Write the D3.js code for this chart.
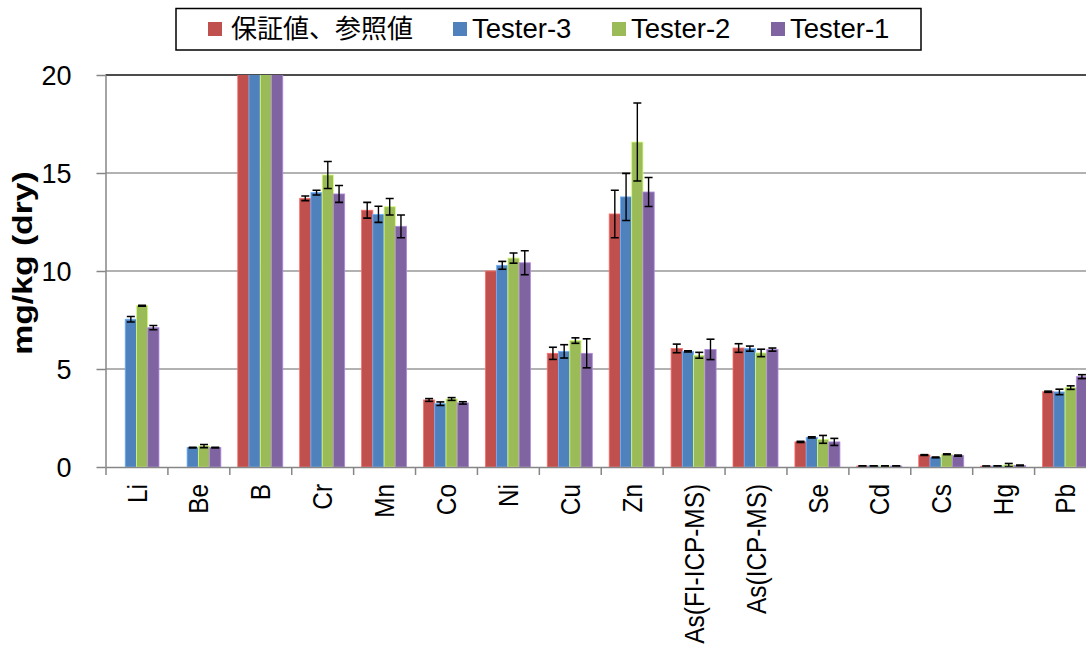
<!DOCTYPE html>
<html>
<head>
<meta charset="utf-8">
<script src="https://cdn.jsdelivr.net/npm/d3@7"></script>
<style>
  html, body { margin: 0; padding: 0; background: #fff; }
  svg { display: block; }
  text { font-family: "Liberation Sans", Arial, sans-serif; fill: #000; }
</style>
</head>
<body>
<svg id="chart" width="1086" height="671"></svg>
<script>
const categories = ["Li","Be","B","Cr","Mn","Co","Ni","Cu","Zn","As(FI-ICP-MS)","As(ICP-MS)","Se","Cd","Cs","Hg","Pb"];
const seriesNames = ["保証値、参照値","Tester-3","Tester-2","Tester-1"];
const seriesColors = ["#C0504D","#4F81BD","#9BBB59","#8064A2"];
const yTicks = [0,5,10,15,20];

const refValues = [null, null, 30, 13.71, 13.10, 3.42, 10.00, 5.80, 12.91, 6.05, 6.07, 1.28, 0.05, 0.61, 0.04, 3.84];
const refErrors = [null, null, 0, 0.12, 0.40, 0.07, 0, 0.31, 1.21, 0.22, 0.22, 0.03, 0.01, 0.02, 0.01, 0.03];
const tester3Values = [7.54, 0.99, 30, 14.00, 12.89, 3.23, 10.29, 5.90, 13.78, 5.90, 6.04, 1.51, 0.05, 0.49, 0.05, 3.83];
const tester3Errors = [0.14, 0.02, 0, 0.12, 0.41, 0.09, 0.20, 0.34, 1.20, 0.03, 0.13, 0.03, 0.01, 0.02, 0.01, 0.14];
const tester2Values = [8.23, 1.07, 30, 14.90, 13.28, 3.47, 10.66, 6.45, 16.58, 5.70, 5.82, 1.41, 0.05, 0.65, 0.10, 4.05];
const tester2Errors = [0.02, 0.08, 0, 0.69, 0.42, 0.07, 0.26, 0.14, 1.99, 0.15, 0.19, 0.20, 0.01, 0.02, 0.08, 0.09];
const tester1Values = [7.11, 0.99, 30, 13.93, 12.28, 3.27, 10.42, 5.80, 14.03, 6.00, 5.99, 1.28, 0.05, 0.58, 0.08, 4.61];
const tester1Errors = [0.11, 0.02, 0, 0.43, 0.58, 0.06, 0.61, 0.74, 0.74, 0.52, 0.08, 0.18, 0.01, 0.03, 0.02, 0.10];

const seriesValues = [refValues, tester3Values, tester2Values, tester1Values];
const seriesErrors = [refErrors, tester3Errors, tester2Errors, tester1Errors];

(function () {
const svg = d3.select("#chart");
svg.append("rect").attr("width",1086).attr("height",671).attr("fill","#fff");

const pL = 105.5, pR = 1096, pT = 75, pB = 467;
const x = d3.scaleBand().domain(categories).range([pL, pR]).paddingInner(0).paddingOuter(0);
const xs = d3.scaleBand().domain(seriesNames).range([0, x.bandwidth()]).paddingInner(0).paddingOuter(0.75);
const y = d3.scaleLinear().domain([0, 20]).range([pB, pT]);

svg.append("defs").append("clipPath").attr("id","plotclip")
  .append("rect").attr("x", pL).attr("y", pT).attr("width", pR-pL).attr("height", pB-pT);

// gridlines
svg.append("g").selectAll("line").data(yTicks.filter(d => d > 0)).join("line")
  .attr("x1", pL).attr("x2", pR)
  .attr("y1", d => y(d)).attr("y2", d => y(d))
  .attr("stroke", d => d === 20 ? "#111" : "#999").attr("stroke-width", 1.5);

// bars
const barData = [];
seriesNames.forEach((s, si) => {
  categories.forEach((c, ci) => {
    const v = seriesValues[si][ci];
    if (v === null || v === undefined) return;
    barData.push({s, si, c, v, e: seriesErrors[si][ci]});
  });
});

const plot = svg.append("g").attr("clip-path","url(#plotclip)");
plot.selectAll("rect.bar").data(barData).join("rect")
  .attr("class","bar")
  .attr("x", d => x(d.c) + xs(d.s))
  .attr("width", xs.bandwidth())
  .attr("y", d => y(d.v))
  .attr("height", d => y(0) - y(d.v))
  .attr("fill", d => seriesColors[d.si])
  .attr("stroke", d => d3.color(seriesColors[d.si]).brighter(0.9))
  .attr("stroke-width", 0.8);

// error bars
const eg = plot.append("g");
const errData = barData.filter(d => d.e !== null && d.e > 0 && d.v < 20);
const cap = 4;
errData.forEach(d => {
  const cx = x(d.c) + xs(d.s) + xs.bandwidth()/2;
  const y1 = y(d.v + d.e), y2 = y(Math.max(0, d.v - d.e));
  eg.append("line").attr("x1", cx).attr("x2", cx).attr("y1", y1).attr("y2", y2).attr("stroke","#000").attr("stroke-width",1.4);
  eg.append("line").attr("x1", cx-cap).attr("x2", cx+cap).attr("y1", y1).attr("y2", y1).attr("stroke","#000").attr("stroke-width",1.6);
  eg.append("line").attr("x1", cx-cap).attr("x2", cx+cap).attr("y1", y2).attr("y2", y2).attr("stroke","#000").attr("stroke-width",1.6);
});

// y axis
const yAxis = svg.append("g").attr("transform", `translate(${pL},0)`)
  .call(d3.axisLeft(y).tickValues(yTicks).tickSize(9).tickPadding(25).tickSizeOuter(0));
yAxis.select(".domain").attr("stroke","#868686").attr("stroke-width",1.5);
yAxis.selectAll(".tick line").attr("stroke","#868686").attr("stroke-width",1.5);
yAxis.selectAll(".tick text").style("font-size","27px").style("font-family",'"Liberation Sans", Arial, sans-serif').attr("dy","0.36em");

// x axis: boundary ticks
const xb = d3.scaleLinear().domain([0, categories.length]).range([pL, pR]);
const xAxisB = svg.append("g").attr("transform", `translate(0,${pB})`)
  .call(d3.axisBottom(xb).tickValues(d3.range(categories.length + 1)).tickFormat("").tickSize(8).tickSizeOuter(0));
xAxisB.select(".domain").attr("stroke","#868686").attr("stroke-width",1.5);
xAxisB.selectAll(".tick line").attr("stroke","#868686").attr("stroke-width",1.5);

// x axis labels
const lblScale = 0.87;
const xAxisL = svg.append("g").attr("transform", `translate(0,${pB})`)
  .call(d3.axisBottom(x).tickSize(0).tickSizeOuter(0));
xAxisL.select(".domain").remove();
xAxisL.selectAll(".tick text")
  .style("font-size","28px").style("font-family",'"Liberation Sans", Arial, sans-serif')
  .attr("transform",`rotate(-90) scale(${lblScale},1)`)
  .attr("text-anchor","end")
  .attr("x", -17 / lblScale).attr("y", 0).attr("dy","0.36em");

// y title
svg.append("text")
  .attr("transform", "translate(32,263) rotate(-90) scale(1.25,1)")
  .attr("text-anchor","middle")
  .style("font-size","27px").style("font-weight","bold")
  .text("mg/kg (dry)");

// legend
const lg = svg.append("g");
lg.append("rect").attr("x",176).attr("y",8.5).attr("width",745).attr("height",41.5)
  .attr("fill","#fff").attr("stroke","#000").attr("stroke-width",1.5);
const legendX = [208, 453, 612, 771];
seriesNames.forEach((s, i) => {
  lg.append("rect").attr("x", legendX[i]).attr("y", 22).attr("width", 14).attr("height", 14).attr("fill", seriesColors[i]);
  lg.append("text").attr("x", legendX[i] + (i === 0 ? 23 : 19)).attr("y", 38)
    .style("font-size", i === 0 ? "26px" : "27.5px")
    .style("font-family", i === 0 ? '"Noto Sans CJK JP", sans-serif' : '"Liberation Sans", Arial, sans-serif')
    .text(s);
});
})();
</script>
</body>
</html>
